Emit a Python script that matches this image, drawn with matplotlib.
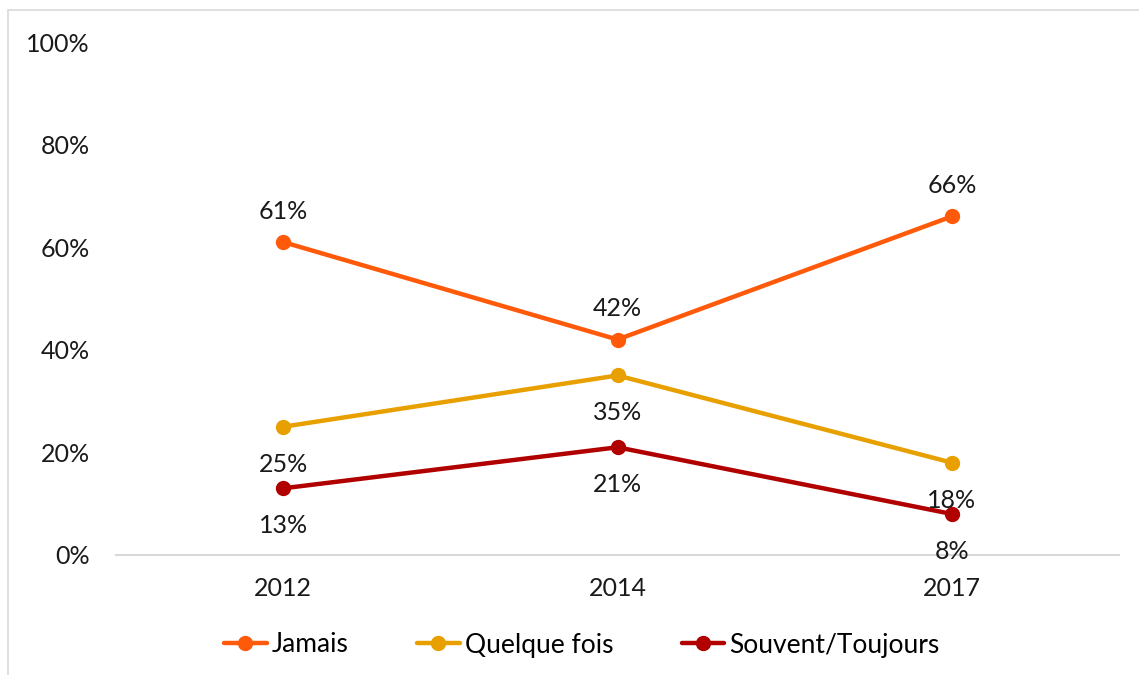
import matplotlib.pyplot as plt
from matplotlib.patches import Rectangle

years = ['2012', '2014', '2017']
jamais = [61, 42, 66]
quelque = [25, 35, 18]
souvent = [13, 21, 8]
series_names = ['Jamais', 'Quelque fois', 'Souvent/Toujours']
colors = ['#FF5A0A', '#E8A000', '#B00000']
# label placement: +1 above, -1 below
label_pos = [[1, 1, 1], [-1, -1, -1], [-1, -1, -1]]

plt.rcParams['font.family'] = ['Lato', 'DejaVu Sans']

fig = plt.figure(figsize=(11.39, 6.75), dpi=100)
ax = fig.add_axes([116 / 1139, 1 - 555 / 675, (1119 - 116) / 1139, 513 / 675])

# light frame around the chart area
fig.patches.append(Rectangle((8 / 1139, -0.1), 1.2, 1 - 10 / 675 + 0.1, transform=fig.transFigure,
                             fill=False, edgecolor='#D9D9D9', linewidth=1.2))

x = range(len(years))
for vals, name, c, pos in zip([jamais, quelque, souvent], series_names, colors, label_pos):
    ax.plot(x, vals, color=c, linewidth=3.2, marker='o', markersize=10, label=name,
            solid_capstyle='round')
    for i, v in enumerate(vals):
        off = 22 if pos[i] > 0 else -27
        ax.annotate(f'{v}%', (i, v), xytext=(0, off), textcoords='offset points',
                    ha='center', va='center', fontsize=18, color='#1a1a1a')

ax.set_xlim(-0.5, 2.5)
ax.set_ylim(0, 100)
ax.set_yticks(range(0, 101, 20))
ax.set_yticklabels([f'{t}%' for t in range(0, 101, 20)])
ax.set_xticks(list(x))
ax.set_xticklabels(years)
ax.tick_params(axis='both', length=0, labelsize=18, colors='#1a1a1a')
ax.tick_params(axis='y', pad=19)
ax.tick_params(axis='x', pad=16)
for s in ['top', 'right', 'left']:
    ax.spines[s].set_visible(False)
ax.spines['bottom'].set_color('#D9D9D9')
ax.spines['bottom'].set_linewidth(1.5)

fig.legend(loc='center', bbox_to_anchor=(582 / 1139, 1 - 645 / 675), ncol=3, frameon=False,
           fontsize=19, handlelength=1.6, handletextpad=0.2, columnspacing=2.6)

fig.savefig('out.png', dpi=100, facecolor='white')
